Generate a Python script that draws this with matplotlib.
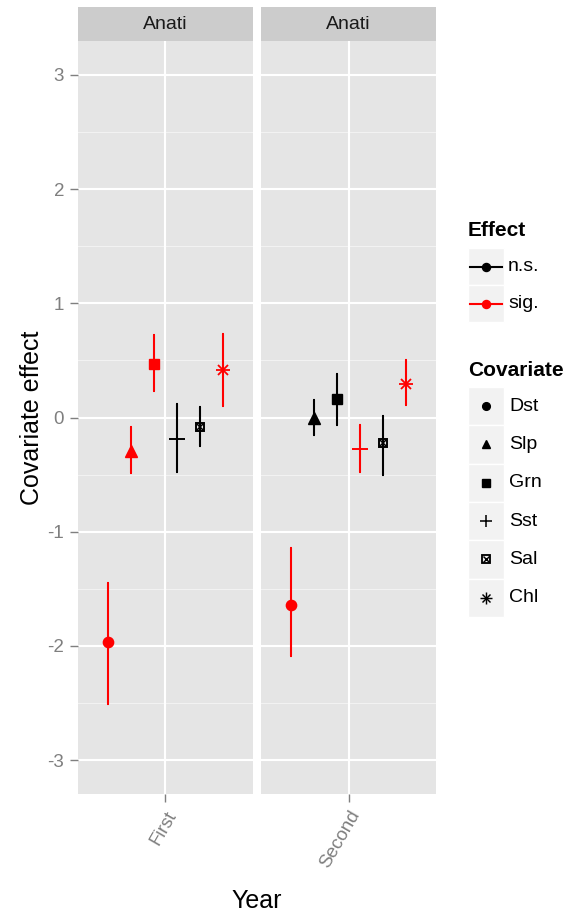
import matplotlib
matplotlib.use('Agg')
import matplotlib.pyplot as plt
import numpy as np
from matplotlib.patches import Rectangle

plt.rcParams['font.family'] = ['Liberation Sans', 'DejaVu Sans']

# ---------------- data ----------------
facet_label = 'Anati'
years = ['First', 'Second']
covariates = ['Dst', 'Slp', 'Grn', 'Sst', 'Sal', 'Chl']
effect_levels = ['n.s.', 'sig.']

est_first = [-1.97, -0.29, 0.47, -0.19, -0.08, 0.42]
lo_first = [-2.51, -0.49, 0.23, -0.48, -0.25, 0.10]
hi_first = [-1.45, -0.085, 0.725, 0.115, 0.09, 0.735]
sig_first = ['sig.', 'sig.', 'sig.', 'n.s.', 'n.s.', 'sig.']

est_second = [-1.64, 0.0, 0.165, -0.275, -0.22, 0.29]
lo_second = [-2.09, -0.15, -0.07, -0.475, -0.50, 0.11]
hi_second = [-1.14, 0.15, 0.38, -0.07, 0.01, 0.50]
sig_second = ['sig.', 'n.s.', 'n.s.', 'sig.', 'n.s.', 'sig.']

y_ticks = [-3, -2, -1, 0, 1, 2, 3]
y_minor = [-2.5, -1.5, -0.5, 0.5, 1.5, 2.5]

# ---------------- styles ----------------
effect_colors = {'n.s.': '#000000', 'sig.': '#FF0000'}
PANEL_BG = '#E5E5E5'
STRIP_BG = '#CCCCCC'
TICK_COL = '#7F7F7F'
KEY_BG = '#F2F2F2'

W, H = 564, 915
fig = plt.figure(figsize=(W / 100, H / 100), dpi=100)


def px_axes(l, t, r, b):
    return fig.add_axes([l / W, 1 - b / H, (r - l) / W, (b - t) / H])


def draw_shape(ax, x, y, cov, color, scale=1.0, zorder=5):
    s = scale
    if cov == 'Dst':
        ax.plot(x, y, 'o', ms=7.4 * s, color=color, mec=color, zorder=zorder)
    elif cov == 'Slp':
        ax.plot(x, y, '^', ms=8.2 * s, color=color, mec=color, zorder=zorder)
    elif cov == 'Grn':
        ax.plot(x, y, 's', ms=6.8 * s, color=color, mec=color, zorder=zorder)
    elif cov == 'Sst':
        ax.plot(x, y, '+', ms=11 * s, mew=1.4 * s, color=color, zorder=zorder)
    elif cov == 'Sal':
        ax.plot(x, y, 's', ms=6.4 * s, mfc='none', mec=color, mew=1.4 * s, zorder=zorder)
        ax.plot(x, y, 'x', ms=4.0 * s, mew=1.1 * s, color=color, zorder=zorder)
    elif cov == 'Chl':
        ax.plot(x, y, '+', ms=10.5 * s, mew=1.3 * s, color=color, zorder=zorder)
        ax.plot(x, y, 'x', ms=7.4 * s, mew=1.3 * s, color=color, zorder=zorder)


panels = [
    (years[0], est_first, lo_first, hi_first, sig_first, (78, 253)),
    (years[1], est_second, lo_second, hi_second, sig_second, (261, 436)),
]

dodge = 0.95
n = len(covariates)
offsets = (np.arange(n) - (n - 1) / 2) * dodge / n

for i, (yr, est, lo, hi, sig, (l, r)) in enumerate(panels):
    ax = px_axes(l, 41, r, 794)
    ax.set_facecolor(PANEL_BG)
    for sp in ax.spines.values():
        sp.set_visible(False)
    ax.set_xlim(0.4, 1.6)
    ax.set_ylim(-3.297, 3.297)
    for ym in y_minor:
        ax.axhline(ym, color='#F2F2F2', lw=0.8, zorder=0)
    for yt in y_ticks:
        ax.axhline(yt, color='white', lw=1.5, zorder=1)
    ax.axvline(1, color='white', lw=1.5, zorder=1)
    ax.set_yticks(y_ticks)
    ax.set_xticks([1])
    ax.tick_params(axis='both', colors=TICK_COL, length=6, width=1.0,
                   labelsize=13.5, pad=4)
    if i == 0:
        ax.set_yticklabels([str(v) for v in y_ticks], color=TICK_COL)
    else:
        ax.tick_params(axis='y', left=False, labelleft=False)
    ax.set_xticklabels([yr], rotation=60, ha='right', va='top',
                       rotation_mode='anchor', color=TICK_COL, fontsize=13.5)

    for j, cov in enumerate(covariates):
        x = 1 + offsets[j]
        c = effect_colors[sig[j]]
        ax.errorbar([x], [est[j]], yerr=[[est[j] - lo[j]], [hi[j] - est[j]]],
                    fmt='none', ecolor=c, elinewidth=1.5, capsize=0.7,
                    capthick=1.5, zorder=3)
        draw_shape(ax, x, est[j], cov, c)

    # strip
    sa = px_axes(l, 7, r, 41)
    sa.set_facecolor(STRIP_BG)
    for sp in sa.spines.values():
        sp.set_visible(False)
    sa.set_xticks([])
    sa.set_yticks([])
    sa.text(0.5, 0.48, facet_label, ha='center', va='center',
            fontsize=14, color='#1A1A1A', transform=sa.transAxes)

# axis titles
fig.text(32 / W, 1 - 418 / H, 'Covariate effect', rotation=90,
         ha='center', va='center', fontsize=18)
fig.text(257 / W, 1 - 901 / H, 'Year', ha='center', va='center', fontsize=18)

# ---------------- legends (drawn in pixel space) ----------------
lg = fig.add_axes([0, 0, 1, 1])
lg.set_xlim(0, W)
lg.set_ylim(H, 0)
lg.axis('off')
lg.patch.set_alpha(0)

kx, kw = 468, 36
lg.text(kx, 230, 'Effect', fontsize=15, fontweight='bold',
        ha='left', va='center')
ky0, kh = 248, 37
for k, lev in enumerate(effect_levels):
    top = ky0 + k * kh
    lg.add_patch(Rectangle((kx, top), kw, kh, facecolor=KEY_BG,
                           edgecolor='white', lw=1))
    cy = top + kh / 2
    c = effect_colors[lev]
    lg.plot([kx + 2, kx + kw - 2], [cy, cy], color=c, lw=1.5)
    lg.plot(kx + kw / 2, cy, 'o', ms=5.8, color=c)
    lg.text(kx + kw + 4, cy, lev, fontsize=14, ha='left', va='center')

lg.text(kx, 370, 'Covariate', fontsize=15, fontweight='bold',
        ha='left', va='center')
cy0, ch = 387, 38.3
legend_scale = {'Dst': 0.75, 'Slp': 0.75, 'Grn': 0.75, 'Sst': 0.8,
                'Sal': 0.95, 'Chl': 0.8}
for k, cov in enumerate(covariates):
    top = cy0 + k * ch
    lg.add_patch(Rectangle((kx, top), kw, ch, facecolor=KEY_BG,
                           edgecolor='white', lw=1))
    cy = top + ch / 2
    draw_shape(lg, kx + kw / 2, cy, cov, 'black', scale=legend_scale[cov])
    lg.text(kx + kw + 5, cy, cov, fontsize=14, ha='left', va='center')

fig.savefig('out.png', dpi=100)
